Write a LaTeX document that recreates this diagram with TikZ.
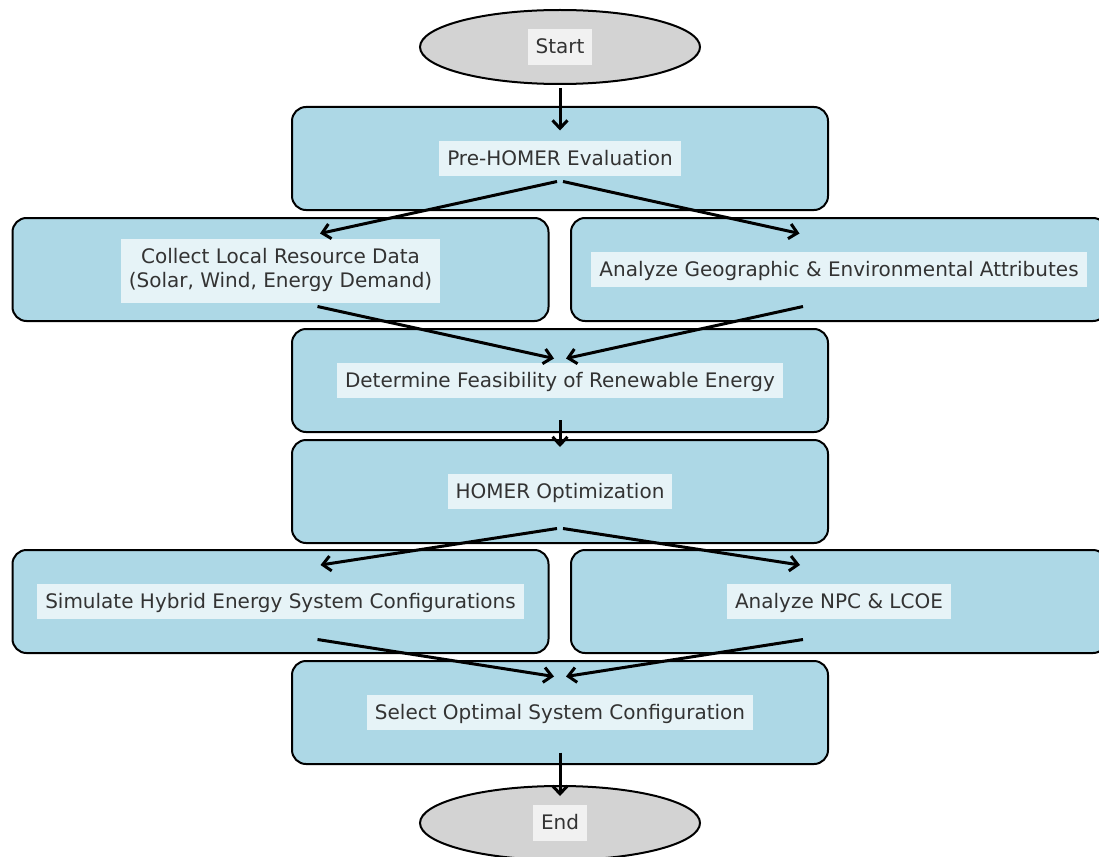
\documentclass[tikz,border=0pt]{standalone}
\usepackage{fontspec}
\setmainfont{DejaVu Sans}
\usetikzlibrary{shapes.geometric,arrows.meta,calc}
\definecolor{boxblue}{HTML}{ADD8E6}
\definecolor{ovalgray}{HTML}{D3D3D3}
\definecolor{txtgray}{HTML}{333333}
\begin{document}
\begin{tikzpicture}[x=1pt,y=-1pt,
  stepbox/.style={draw=black, line width=2pt, fill=boxblue, rounded corners=14pt, minimum width=536pt, minimum height=103pt, inner sep=0pt},
  oval/.style={ellipse, draw=black, line width=2pt, fill=ovalgray, minimum width=280pt, minimum height=74pt, inner sep=0pt},
  lblbase/.style={fill=white, fill opacity=0.7, text opacity=1, text=txtgray, font=\fontsize{20}{24}\selectfont, inner xsep=8pt, align=center},
  lbl/.style={lblbase, inner ysep=8pt, text height=16.5pt, text depth=3pt},
  lbltwo/.style={lblbase, inner ysep=8pt, yshift=-1pt},
  arr/.style={line width=3pt, -{Straight Barb[length=8pt,width=15pt]}}
]
\useasboundingbox (0,0) rectangle (1099,856);

\node[oval] (start) at (560,47) {};
\node[lbl] (tstart) at (start.center) {Start};

\node[stepbox] (pre) at (560,158.5) {};
\node[lbl] (tpre) at (pre.center) {Pre-HOMER Evaluation};

\node[stepbox] (col) at (280.5,269.5) {};
\node[lbltwo] (tcol) at (col.center) {\strut Collect Local Resource Data\\\strut(Solar, Wind, Energy Demand)};

\node[stepbox] (geo) at (839,269.5) {};
\node[lbl] (tgeo) at (geo.center) {Analyze Geographic \& Environmental Attributes};

\node[stepbox] (det) at (560,380.5) {};
\node[lbl] (tdet) at (det.center) {Determine Feasibility of Renewable Energy};

\node[stepbox] (hom) at (560,491.5) {};
\node[lbl] (thom) at (hom.center) {HOMER Optimization};

\node[stepbox] (sim) at (280.5,601.5) {};
\node[lbl] (tsim) at (sim.center) {Simulate Hybrid Energy System Configurations};

\node[stepbox] (npc) at (839,601.5) {};
\node[lbl] (tnpc) at (npc.center) {Analyze NPC \& LCOE};

\node[stepbox] (sel) at (560,712.5) {};
\node[lbl] (tsel) at (sel.center) {Select Optimal System Configuration};

\node[oval] (end) at (560,823) {};
\node[lbl] (tend) at (end.center) {End};

\draw[arr] ($(start.south)+(0,3)$) -- ($(pre.center)+(0,-28)$);
\draw[arr] ($(pre.center)+(-3,23)$) -- ($(col.center)+(39.5,-36)$);
\draw[arr] ($(pre.center)+(3,23)$) -- ($(geo.center)+(-39.5,-36)$);
\draw[arr] ($(col.center)+(37,37)$) -- ($(det.center)+(-6,-22)$);
\draw[arr] ($(geo.center)+(-36,37)$) -- ($(det.center)+(6,-22)$);
\draw[arr] ($(det.center)+(0,39.5)$) -- ($(hom.center)+(0,-44.5)$);
\draw[arr] ($(hom.center)+(-3,37)$) -- ($(sim.center)+(40,-36.5)$);
\draw[arr] ($(hom.center)+(3,37)$) -- ($(npc.center)+(-39,-36.5)$);
\draw[arr] ($(sim.center)+(37,38)$) -- ($(sel.center)+(-6,-36)$);
\draw[arr] ($(npc.center)+(-36,38)$) -- ($(sel.center)+(6,-36)$);
\draw[arr] ($(sel.center)+(0,40)$) -- ($(end.center)+(0,-27)$);
\end{tikzpicture}
\end{document}
